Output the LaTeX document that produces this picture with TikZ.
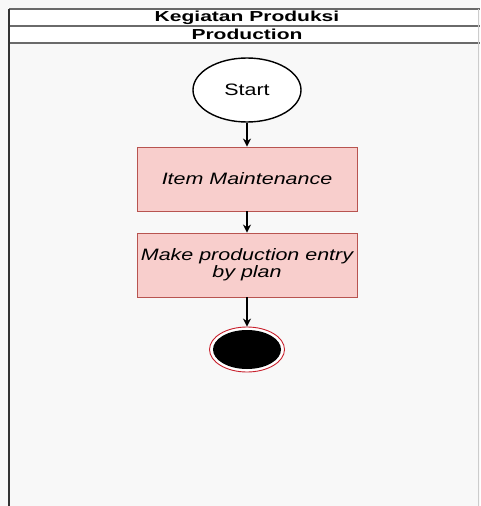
\documentclass[tikz,border=0pt]{standalone}
\usepackage{fontspec}
\setmainfont{Liberation Sans}
\newfontfamily\headfont{Liberation Sans}[FakeStretch=1.45]
\newfontfamily\boxfont{Liberation Sans}[FakeStretch=1.3]
\usetikzlibrary{shapes.geometric,arrows.meta}
\definecolor{lanebg}{HTML}{F8F8F8}
\definecolor{actfill}{HTML}{F8CECC}
\definecolor{actline}{HTML}{B85450}
\definecolor{frameline}{HTML}{6A6A6A}
\definecolor{endring}{HTML}{C8202C}
\tikzset{
  headtext/.style={font=\headfont\bfseries\fontsize{14.5}{16}\selectfont, inner sep=0pt},
  activity/.style={rectangle, draw=actline, line width=0.9pt, fill=actfill,
    minimum width=220pt, minimum height=64pt, inner sep=1pt, align=center,
    font=\boxfont\itshape\fontsize{16.5}{17}\selectfont},
  startstate/.style={ellipse, draw=black, line width=1.4pt, fill=white,
    minimum width=108pt, minimum height=64pt, inner sep=0pt,
    font=\boxfont\fontsize{16.5}{18}\selectfont},
  endstate/.style={ellipse, draw=endring, line width=0.9pt, fill=white,
    minimum width=75pt, minimum height=45pt, inner sep=0pt},
  flow/.style={-{Stealth[length=8pt,width=8pt]}, line width=1.3pt, black}
}
\begin{document}
\begin{tikzpicture}[x=1pt,y=-1pt]
  \useasboundingbox (0,0) rectangle (480,506);
  \fill[lanebg] (0,0) rectangle (480,506);
  % swimlane body and header rows
  \fill[lanebg] (9,43) rectangle (478.5,506);
  \fill[white] (9,9) rectangle (478.5,43);
  \draw[frameline, line width=1.3pt] (9,9) -- (480,9);
  \draw[frameline, line width=1.3pt] (9,26) -- (480,26);
  \draw[frameline, line width=1.3pt] (9,43) -- (480,43);
  \draw[black!80, line width=2pt] (9,9) -- (9,506);
  \draw[black!20, line width=0.8pt] (478.5,9) -- (478.5,506);
  \node[headtext] (title) at (247,17.5) {Kegiatan Produksi};
  \node[headtext] (lane) at (247,34.5) {Production};
  % activity flow
  \node[startstate] (start) at (247,90) {Start};
  \node[activity] (item) at (247,179) {Item Maintenance};
  \node[activity] (plan) at (247,265) {Make production entry\\by plan};
  \node[endstate] (end) at (247,349.5) {};
  \fill[black] (end.center) ellipse [x radius=34pt, y radius=19.5pt];
  \draw[flow] (start) -- (item);
  \draw[flow] (item) -- (plan);
  \draw[flow] (plan) -- (end);
\end{tikzpicture}
\end{document}
